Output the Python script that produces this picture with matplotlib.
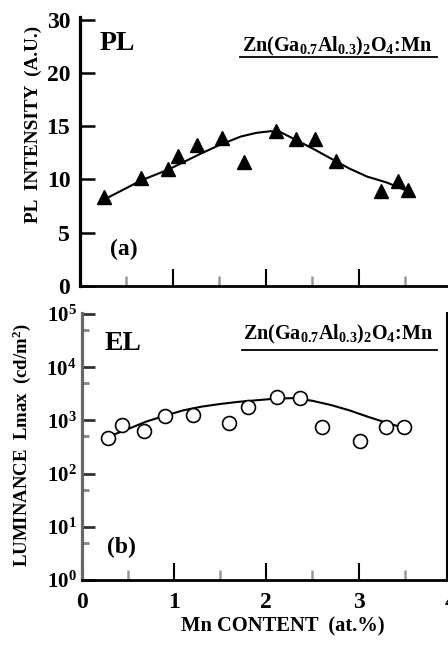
import matplotlib
matplotlib.use("Agg")
from matplotlib import pyplot as plt
from matplotlib.ticker import FixedLocator, NullFormatter

plt.rcParams['font.family'] = ['Liberation Serif', 'DejaVu Serif']
plt.rcParams['font.weight'] = 'bold'
plt.rcParams['mathtext.fontset'] = 'custom'
plt.rcParams['mathtext.rm'] = 'Liberation Serif:bold'
plt.rcParams['mathtext.it'] = 'Liberation Serif:bold'
plt.rcParams['mathtext.bf'] = 'Liberation Serif:bold'

# (a) PL intensity vs Mn content
pl_x = [0.26, 0.66, 0.95, 1.06, 1.26, 1.53, 1.77, 2.11, 2.32, 2.53, 2.76, 3.24, 3.42, 3.53]
pl_y = [8.35, 10.1, 11.0, 12.2, 13.2, 13.9, 11.6, 14.5, 13.8, 13.8, 11.7, 8.9, 9.85, 9.0]
pl_fit_x = [0.26, 0.66, 0.95, 1.3, 1.5, 1.73, 1.9, 2.05, 2.15, 2.32, 2.5, 2.73, 2.9, 3.09, 3.3, 3.54]
pl_fit_y = [8.1, 9.9, 10.9, 12.4, 13.2, 14.0, 14.35, 14.5, 14.45, 13.7, 12.9, 11.8, 11.0, 10.25, 9.7, 8.85]
pl_ticks = [0, 5, 10, 15, 20, 24.9]
pl_ticklabels = ['0', '5', '10', '15', '20', '30']

# (b) EL luminance vs Mn content
el_x = [0.28, 0.43, 0.67, 0.90, 1.20, 1.59, 1.80, 2.12, 2.36, 2.60, 3.02, 3.30, 3.49]
el_y = [470, 820, 640, 1230, 1260, 880, 1760, 2700, 2680, 760, 415, 760, 760]
el_fit_x = [0.28, 0.5, 0.7, 0.9, 1.1, 1.3, 1.5, 1.7, 1.9, 2.1, 2.3, 2.5, 2.7, 2.9, 3.1, 3.3, 3.49]
el_fit_y = [490, 690, 955, 1230, 1550, 1820, 2040, 2240, 2400, 2570, 2630, 2340, 1950, 1550, 1175, 910, 725]
el_decades = [1, 10, 100, 1000, 1e4, 1e5]
el_ticklabels = [r'$10^{0}$', r'$10^{1}$', r'$10^{2}$', r'$10^{3}$', r'$10^{4}$', r'$10^{5}$']
el_minor = [5, 50, 500, 5000, 5e4]

x_major = [1, 2, 3]
x_minor = [0.5, 1.5, 2.5, 3.5]
x_labels = ['0', '1', '2', '3']

formula = r'Zn(Ga$_{0.7}$Al$_{0.3}$)$_2$O$_4$:Mn'

fig = plt.figure(figsize=(4.48, 6.45), dpi=100)

# ---- top panel ----
ax1 = fig.add_axes([80/448, 1-286/645, 367/448, 269/645])
ax1.plot(pl_fit_x, pl_fit_y, color='black', lw=1.5)
ax1.plot(pl_x, pl_y, '^', color='black', ms=10, clip_on=False)
ax1.set_xlim(0, 3.95)
ax1.set_ylim(0, 25.2)
for s in ['top', 'right']:
    ax1.spines[s].set_visible(False)
ax1.spines['left'].set_linewidth(2.3)
ax1.spines['bottom'].set_linewidth(2.0)
ax1.set_yticks(pl_ticks)
ax1.set_yticklabels(pl_ticklabels)
ax1.tick_params(axis='y', direction='in', length=11, width=1.8, labelsize=17, pad=7)
ax1.xaxis.set_major_locator(FixedLocator(x_major))
ax1.xaxis.set_minor_locator(FixedLocator(x_minor))
ax1.xaxis.set_major_formatter(NullFormatter())
ax1.tick_params(axis='x', which='major', direction='in', length=12, width=1.5, color='black')
ax1.tick_params(axis='x', which='minor', direction='in', length=7, width=1.8, color='#999999')
ax1.set_ylabel('PL  INTENSITY  (A.U.)', fontsize=13.8, fontweight='bold')
ax1.yaxis.set_label_coords(-0.104, 0.6)
ax1.text(0.054, 0.877, 'PL', transform=ax1.transAxes, fontsize=20, va='baseline')
ax1.text(0.082, 0.115, '(a)', transform=ax1.transAxes, fontsize=17, va='baseline')
ax1.text(0.959, 0.87, formula, transform=ax1.transAxes, fontsize=14.5, ha='right', va='baseline')
ax1.plot([0.436, 0.973], [0.851, 0.851], transform=ax1.transAxes, color='black', lw=1.3, clip_on=False)

# ---- bottom panel ----
ax2 = fig.add_axes([82/448, 1-580/645, 365/448, 267/645])
ax2.plot(el_fit_x, el_fit_y, color='black', lw=1.5)
ax2.plot(el_x, el_y, 'o', mfc='white', mec='black', mew=1.2, ms=10)
ax2.set_yscale('log')
ax2.set_xlim(0, 3.96)
ax2.set_ylim(1, 10**5.02)
ax2.spines['top'].set_visible(False)
ax2.spines['left'].set_linewidth(2.3)
ax2.spines['left'].set_color('#666666')
ax2.spines['bottom'].set_linewidth(2.0)
ax2.spines['right'].set_linewidth(1.5)
ax2.yaxis.set_major_locator(FixedLocator(el_decades))
ax2.set_yticklabels(el_ticklabels)
ax2.yaxis.set_minor_locator(FixedLocator(el_minor))
ax2.yaxis.set_minor_formatter(NullFormatter())
ax2.tick_params(axis='y', which='major', direction='in', length=9, width=2.0, color='#333333',
                labelsize=15, pad=4, right=False)
ax2.tick_params(axis='y', which='minor', direction='in', length=5, width=2.0, color='#888888', right=False)
ax2.xaxis.set_major_locator(FixedLocator([0] + x_major))
ax2.set_xticklabels(x_labels)
ax2.xaxis.set_minor_locator(FixedLocator(x_minor))
ax2.tick_params(axis='x', which='major', direction='in', length=12, width=1.5, color='black',
                labelsize=17, pad=9)
ax2.tick_params(axis='x', which='minor', direction='in', length=7, width=1.8, color='#999999')
ax2.text(4.0, -0.045, '4', transform=ax2.get_xaxis_transform(), fontsize=17,
         ha='center', va='top', clip_on=False)
ax2.set_ylabel(r'LUMINANCE  Lmax  (cd/m$^2$)', fontsize=13.5, fontweight='bold')
ax2.yaxis.set_label_coords(-0.134, 0.505)
ax2.set_xlabel('Mn CONTENT  (at.%)', fontsize=14.8, fontweight='bold')
ax2.xaxis.set_label_coords(0.55, -0.135)
ax2.text(0.063, 0.861, 'EL', transform=ax2.transAxes, fontsize=20, va='baseline')
ax2.text(0.068, 0.10, '(b)', transform=ax2.transAxes, fontsize=17, va='baseline')
ax2.text(0.962, 0.899, formula, transform=ax2.transAxes, fontsize=14.5, ha='right', va='baseline')
ax2.plot([0.438, 0.973], [0.861, 0.861], transform=ax2.transAxes, color='black', lw=1.3, clip_on=False)

fig.savefig('out.png', dpi=100)
